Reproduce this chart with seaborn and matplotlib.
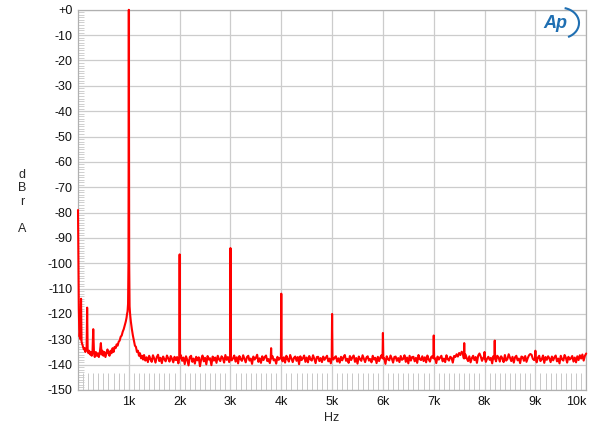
import numpy as np
import pandas as pd
import matplotlib
matplotlib.use("Agg")
import matplotlib.pyplot as plt
import seaborn as sns
from matplotlib.patches import Arc

# low band trace, 0 - 1300 Hz
low_hz = [0, 8, 16, 24, 32, 40, 50, 60, 70, 85, 100, 115, 130, 145, 160, 170, 180, 190,
          205, 220, 240, 255, 270, 285, 300, 315, 330, 350, 370, 390, 410, 430, 450, 465,
          480, 500, 520, 540, 560, 580, 600, 620, 640, 660, 680, 700, 720, 740, 760, 780,
          800, 820, 840, 860, 880, 900, 920, 940, 955, 965, 975, 985, 993, 1000, 1007,
          1015, 1025, 1040, 1060, 1080, 1100, 1120, 1140, 1160, 1180, 1200, 1220, 1240,
          1260, 1280]
low_db = [-79, -100, -118, -126, -129, -127, -130, -114, -131, -132, -133, -134, -133.5,
          -135, -134, -133, -117.5, -134, -135.5, -134.5, -136, -135, -136.5, -135, -126,
          -135.5, -137, -135, -136.5, -135.5, -137, -135, -131.5, -136, -134.5, -136.5,
          -135, -137, -135.5, -134, -135.5, -136.5, -134.5, -135.5, -133.5, -135, -133,
          -133.5, -132, -132.5, -131, -130.5, -129, -128.5, -127, -126, -124.5, -123,
          -121.5, -120, -119, -116, -100, 0, -100, -117, -120, -123, -126, -128.5, -130.5,
          -132.5, -133, -135, -134.5, -136.5, -135.5, -137.5, -136.5, -138]

# noise floor, 1300 - 10000 Hz every 25 Hz
floor_hz = np.arange(1300, 10001, 25)
floor_db = [
    -136.2, -138.4, -137.1, -139.0, -136.5, -137.8, -138.9, -136.3, -137.6, -139.2,
    -137.0, -136.1, -138.6, -137.3, -139.4, -136.8, -137.9, -138.7, -136.4, -137.5,
    -138.8, -136.6, -137.7, -139.1, -136.9, -138.2, -137.0, -139.5, -137.4, -136.3,
    -138.5, -137.2, -139.8, -136.7, -138.1, -140.3, -137.0, -136.5, -138.9, -137.6,
    -139.6, -136.9, -138.3, -137.1, -140.6, -137.8, -136.4, -138.7, -137.3, -139.9,
    -136.6, -138.0, -137.5, -140.2, -136.8, -138.4, -137.2, -139.3, -136.5, -137.9,
    -138.6, -136.7, -137.4, -139.2, -136.2, -138.1, -137.0, -139.0, -136.9, -138.3,
    -137.5, -136.4, -138.8, -137.1, -139.5, -136.6, -137.8, -138.5, -136.3, -137.7,
    -139.1, -137.0, -136.5, -138.4, -137.6, -139.7, -136.8, -138.0, -137.3, -136.1,
    -138.9, -137.5, -139.3, -136.7, -138.2, -137.0, -136.4, -138.6, -137.8, -139.4,
    -137.2, -136.6, -138.3, -137.9, -139.6, -136.9, -138.1, -137.4, -136.3, -138.7,
    -137.1, -139.2, -136.5, -137.8, -138.8, -136.2, -137.6, -139.0, -137.3, -136.8,
    -138.5, -137.0, -139.8, -136.7, -138.2, -137.5, -136.4, -138.9, -137.2, -139.1,
    -136.6, -137.9, -138.4, -136.3, -137.7, -139.4, -137.0, -136.9, -138.6, -137.4,
    -139.0, -136.8, -138.1, -137.3, -136.5, -138.7, -137.6, -139.5, -136.4, -138.0,
    -137.2, -136.7, -138.8, -137.5, -139.2, -136.9, -138.3, -137.0, -136.2, -138.5,
    -137.7, -139.3, -136.6, -138.2, -137.1, -136.4, -138.9, -137.4, -139.6, -136.8,
    -137.9, -138.5, -136.3, -137.6, -139.0, -137.2, -136.7, -138.4, -137.8, -139.1,
    -136.5, -138.0, -137.3, -139.4, -136.9, -138.6, -137.1, -136.2, -138.8, -137.5,
    -139.7, -136.7, -137.9, -138.3, -136.4, -137.6, -139.2, -137.0, -136.8, -138.5,
    -137.4, -139.0, -136.6, -138.1, -137.7, -136.3, -138.9, -137.2, -139.5, -136.5,
    -138.4, -137.0, -136.9, -138.7, -137.3, -139.3, -136.2, -137.8, -138.2, -136.7,
    -138.6, -137.1, -139.1, -136.4, -137.9, -138.8, -137.0, -136.6, -138.3, -137.5,
    -139.4, -136.8, -138.0, -137.2, -136.5, -138.7, -137.6, -139.0, -136.3, -137.8,
    -138.4, -136.9, -137.3, -139.2, -136.6, -137.0, -135.9, -136.8, -135.4, -136.2,
    -134.9, -135.7, -134.6, -136.0, -137.5, -138.6, -136.7, -139.1, -137.4, -136.5,
    -138.2, -137.0, -139.3, -136.4, -135.6, -136.8, -138.5, -137.2, -136.3, -138.9,
    -137.6, -136.9, -138.1, -137.3, -139.5, -136.6, -137.9, -138.7, -136.5, -137.1,
    -138.8, -136.7, -137.5, -139.0, -136.2, -138.4, -137.8, -135.9, -137.3, -138.6,
    -136.9, -139.2, -137.1, -136.5, -138.3, -137.6, -139.4, -136.8, -137.0, -138.5,
    -136.6, -138.9, -137.4, -136.3, -135.8, -136.1, -137.7, -138.2, -136.9, -139.1,
    -137.2, -136.5, -138.6, -137.9, -136.4, -139.3, -137.0, -138.1, -136.7, -137.5,
    -139.0, -136.8, -138.3, -137.1, -136.4, -138.7, -137.6, -139.5, -136.5, -137.9,
    -138.4, -136.2, -137.3, -139.2, -136.9, -138.0, -137.5, -136.6, -138.8, -137.2,
    -139.1, -136.7, -138.2, -136.3, -137.6, -136.0, -138.4, -136.5, -135.6]

# harmonics and other spurs
spike_hz = [2000, 3000, 3800, 4000, 5000, 6000, 7000, 7600, 8000, 8200, 9000]
spike_db = [-96.5, -94, -133.5, -112, -120, -127.5, -128.5, -131.5, -135, -130.5, -134.5]
spike_base = -137.5

y_ticks = list(range(-150, 1, 10))
x_ticks = [1000 * k for k in range(1, 11)]
x_labels = [f"{k}k" for k in range(1, 11)]

low = pd.DataFrame({"hz": low_hz, "db": low_db})
floor = pd.DataFrame({"hz": floor_hz, "db": floor_db})
floor = floor[~floor["hz"].isin(spike_hz)]
spikes = pd.DataFrame({"hz": spike_hz, "db": spike_db})
shoulders = pd.DataFrame({"hz": [f + d for f in spike_hz for d in (-8, 8)],
                          "db": spike_base})
df = pd.concat([low, floor, spikes, shoulders]).sort_values("hz").reset_index(drop=True)

sns.set_theme(style="white")
plt.rcParams["font.family"] = ["Liberation Sans", "DejaVu Sans"]

fig = plt.figure(figsize=(6, 4.34), dpi=100)
ax = fig.add_axes([0.13, 0.1014, 0.847, 0.876])

sns.lineplot(data=df, x="hz", y="db", color="#ff0000", linewidth=1.5,
             estimator=None, sort=True, ax=ax)
for line in ax.lines:
    line.set_clip_on(False)
    line.set_zorder(3)

ax.set_xlim(0, 10000)
ax.set_ylim(-150, 0)
ax.set_xticks(x_ticks)
ax.set_xticklabels(x_labels)
ax.set_yticks(y_ticks)
ax.set_yticklabels(["+0" if v == 0 else str(v) for v in y_ticks])
ax.set_xticks(np.arange(100, 10000, 100), minor=True)
ax.set_yticks(np.arange(-150, 0, 1), minor=True)
ax.grid(True, which="major", color="#cccccc", linewidth=0.9)
ax.tick_params(axis="both", which="major", length=0, labelsize=9, colors="#111111", pad=4)
ax.tick_params(axis="x", which="minor", direction="in", length=12, width=0.7,
               color="#c8c8c8", bottom=True)
ax.tick_params(axis="y", which="minor", direction="in", length=4, width=0.6,
               color="#c8c8c8", left=True)
for s in ax.spines.values():
    s.set_color("#b0b0b0")
    s.set_linewidth(0.9)

# last label sits left of its gridline in the original
ax.get_xticklabels()[-1].set_horizontalalignment("right")

ax.set_xlabel("Hz", fontsize=9, labelpad=3)
ax.set_ylabel("")
fig.text(0.037, 0.535, "d\nB\nr\n\nA", fontsize=9, ha="center", va="center",
         linespacing=1.15)

# Ap logo
fig.text(0.925, 0.945, "Ap", fontsize=13, style="italic", color="#1f6fb2",
         ha="center", va="center", fontweight="bold")
fig.patches.append(Arc((0.935, 0.947), 0.06, 0.07, theta1=-70, theta2=80,
                       transform=fig.transFigure, color="#1f6fb2", lw=1.5))

fig.savefig("out.png", dpi=100)
